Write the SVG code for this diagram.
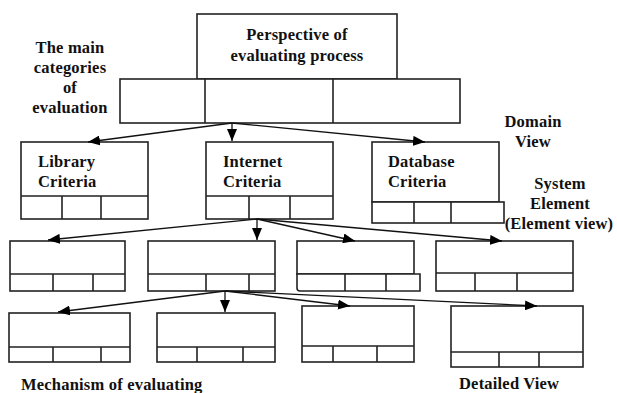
<svg xmlns="http://www.w3.org/2000/svg" width="617" height="393" viewBox="0 0 617 393">
<style>
.b{fill:#fff;stroke:#222;stroke-width:1.6}
.d{stroke:#222;stroke-width:1.6;fill:none}
.c{stroke:#111;stroke-width:1.3;fill:none;marker-end:url(#ah)}
text{font-family:"Liberation Serif","Times New Roman","DejaVu Serif",serif;font-weight:bold;font-size:16.5px;letter-spacing:0.2px;fill:#111}
.m{text-anchor:middle}
</style>
<defs>
<marker id="ah" viewBox="0 0 12 10" refX="12" refY="5" markerWidth="12" markerHeight="10" markerUnits="userSpaceOnUse" orient="auto">
<path d="M0,0 L12,5 L0,10 Z" fill="#000"/>
</marker>
</defs>
<rect width="617" height="393" fill="#fff"/>

<g id="labels">
<text class="m" x="70" y="53">The main</text>
<text class="m" x="70" y="73">categories</text>
<text class="m" x="70" y="93">of</text>
<text class="m" x="70" y="113">evaluation</text>
<text class="m" x="533" y="127">Domain</text>
<text class="m" x="533" y="147">View</text>
<text class="m" x="560" y="189">System</text>
<text class="m" x="560" y="209">Element</text>
<text class="m" x="559" y="229">(Element view)</text>
<text x="21" y="390">Mechanism of evaluating</text>
<text x="459" y="389">Detailed View</text>
</g>

<g id="top">
<rect class="b" x="197" y="14" width="200" height="65"/>
<text class="m" x="297" y="40">Perspective of</text>
<text class="m" x="297" y="61">evaluating process</text>
<rect class="b" x="120" y="79" width="340" height="44"/>
<path class="d" d="M205,79V123M333,79V123"/>
</g>

<g id="library">
<rect class="b" x="21" y="142" width="127" height="77"/>
<path class="d" d="M21,196H148M62,196V219M101,196V219"/>
<text x="38" y="167">Library</text>
<text x="38" y="187">Criteria</text>
</g>

<g id="internet">
<rect class="b" x="206" y="142" width="127" height="77"/>
<path class="d" d="M206,196H333M249,196V219M290,196V219"/>
<text x="223" y="167">Internet</text>
<text x="223" y="187">Criteria</text>
</g>

<g id="database">
<rect class="b" x="372" y="142" width="127" height="60"/>
<rect class="b" x="372" y="202" width="132" height="21"/>
<path class="d" d="M414,202V223M451,202V223"/>
<text x="388" y="167">Database</text>
<text x="388" y="187">Criteria</text>
</g>

<g id="r2a">
<rect class="b" x="10" y="241" width="115" height="50"/>
<path class="d" d="M10,274H125M53,274V291M93,274V291"/>
</g>
<g id="r2b">
<rect class="b" x="148" y="241" width="127" height="50"/>
<path class="d" d="M148,274H275M206,274V291M249,274V291"/>
</g>
<g id="r2c">
<rect class="b" x="297" y="241" width="117" height="33"/>
<path class="b" d="M297,274H420V291H300Q297,291 297,288Z"/>
<path class="d" d="M345,274V291M386,274V291"/>
</g>
<g id="r2d">
<rect class="b" x="436" y="241" width="137" height="50"/>
<path class="d" d="M436,273H573M475,273V291M517,273V291"/>
</g>

<g id="r3a">
<rect class="b" x="9" y="313" width="121" height="49"/>
<path class="d" d="M9,347H130M53,347V362M101,347V362"/>
</g>
<g id="r3b">
<rect class="b" x="157" y="313" width="118" height="49"/>
<path class="d" d="M157,347H275M197,347V362M243,347V362"/>
</g>
<g id="r3c">
<rect class="b" x="302" y="306" width="112" height="56"/>
<path class="d" d="M302,346H414M333,346V362M377,346V362"/>
</g>
<g id="r3d">
<rect class="b" x="451" y="306" width="132" height="61"/>
<path class="d" d="M451,352H583M499,352V367M539,352V367"/>
</g>

<g id="connectors">
<line class="c" x1="232" y1="123" x2="88" y2="142"/>
<line class="c" x1="232" y1="123" x2="232" y2="141"/>
<line class="c" x1="232" y1="123" x2="425" y2="142"/>
<line class="c" x1="257" y1="219" x2="48" y2="240"/>
<line class="c" x1="257" y1="219" x2="257" y2="240"/>
<line class="c" x1="257" y1="219" x2="355" y2="241"/>
<line class="c" x1="257" y1="219" x2="502" y2="241"/>
<line class="c" x1="225" y1="291" x2="58" y2="312"/>
<line class="c" x1="225" y1="291" x2="225" y2="312"/>
<line class="c" x1="225" y1="291" x2="350" y2="306"/>
<line class="c" x1="225" y1="291" x2="537" y2="306"/>
</g>
</svg>
